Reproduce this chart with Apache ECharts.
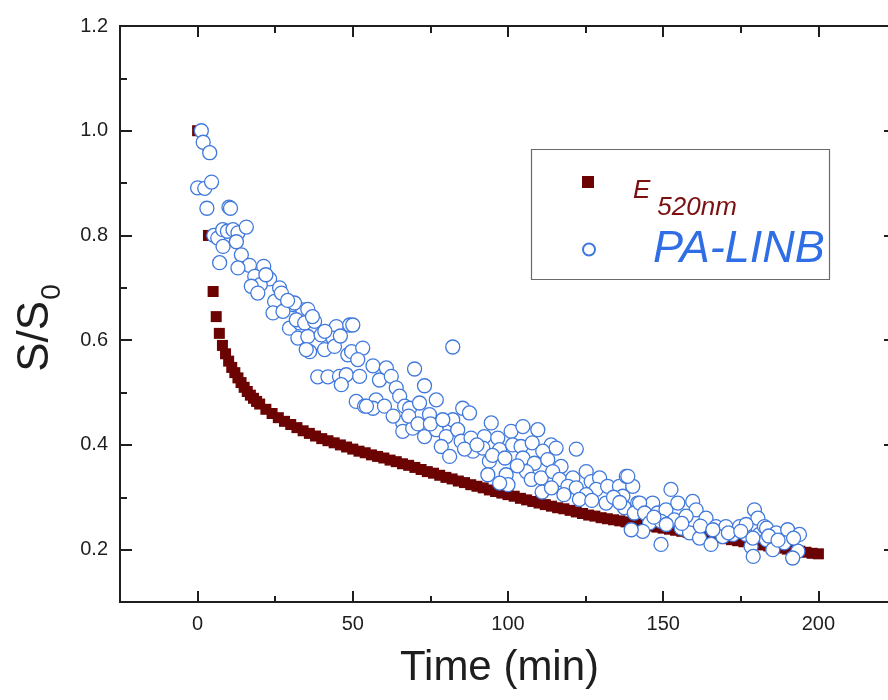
<!DOCTYPE html>
<html>
<head>
<meta charset="utf-8">
<title>S/S0 decay</title>
<script src="https://cdn.jsdelivr.net/npm/echarts@6/dist/echarts.min.js"></script>
<style>
  html, body { margin: 0; padding: 0; background: #ffffff; overflow: hidden; }
  /* the plot frame runs slightly past the right edge of the window */
  #chart { width: 910px; height: 700px; }
</style>
</head>
<body>
<div id="chart"></div>
<script>
// E(520 nm) decay: time (min) and normalised signal
const eTime = [0, 3.5, 5, 6, 7, 8, 9, 10, 11, 12, 13, 14, 15, 16, 17, 18, 19,
  20, 22, 24, 26, 28, 30, 32, 34, 36, 38, 40, 42, 44, 46, 48, 50, 52, 54, 56, 58,
  60, 62, 64, 66, 68, 70, 72, 74, 76, 78, 80, 82, 84, 86, 88, 90, 92, 94, 96, 98,
  100, 102, 104, 106, 108, 110, 112, 114, 116, 118, 120, 122, 124, 126, 128, 130,
  132, 134, 136, 138, 140, 142, 144, 146, 148, 150, 152, 154, 156, 158, 160, 162,
  164, 166, 168, 170, 172, 174, 176, 178, 180, 182, 184, 186, 188, 190, 192, 194,
  196, 198, 200];
const eValue = [1.000, 0.800, 0.693, 0.645, 0.613, 0.590, 0.574, 0.560, 0.548, 0.538,
  0.528, 0.519, 0.510, 0.502, 0.495, 0.489, 0.483,
  0.478, 0.468, 0.460, 0.452, 0.445, 0.439, 0.433, 0.427, 0.422, 0.417, 0.412, 0.408,
  0.404, 0.400, 0.396, 0.392, 0.388, 0.385, 0.381, 0.378,
  0.375, 0.371, 0.368, 0.364, 0.361, 0.357, 0.353, 0.349, 0.346, 0.342, 0.338, 0.335,
  0.331, 0.328, 0.324, 0.321, 0.318, 0.314, 0.311, 0.308,
  0.305, 0.302, 0.298, 0.295, 0.292, 0.289, 0.286, 0.283, 0.280, 0.278, 0.275, 0.272,
  0.269, 0.266, 0.264, 0.261,
  0.259, 0.257, 0.255, 0.253, 0.251, 0.249, 0.247, 0.245, 0.243, 0.241, 0.239, 0.237,
  0.235, 0.233, 0.231, 0.229,
  0.227, 0.225, 0.223, 0.221, 0.219, 0.217, 0.215, 0.213, 0.211, 0.209, 0.207, 0.205,
  0.203, 0.201, 0.199, 0.197,
  0.195, 0.193, 0.192];

// PA-LINB signal: time (min) and normalised signal
const paTime = [1.2, 1.8, 3.9, 0, 2.3, 4.5, 3.0, 10.1, 10.6, 5.2, 6.5, 8.1, 9.6, 11.4,
  13.0, 15.7, 8.2, 12.5, 7.1, 14.1, 16.7, 21.3, 13.0, 18.4, 23.2, 20.2, 17.3, 26.4,
  19.4, 22.0, 24.8, 30.7, 24.3, 27.5, 33.9, 29.6, 32.9, 31.2, 35.5, 31.8, 34.5, 37.7,
  44.7, 49.0, 50.0, 32.3, 35.5, 39.8, 43.6, 36.1, 35.0, 40.9, 44.1, 48.4, 49.6, 53.2,
  51.6, 38.7, 42.0, 45.7, 47.9, 46.3, 52.2, 56.5, 60.8, 58.6, 62.4, 64.0, 65.1, 51.1,
  53.8, 57.5, 56.5, 60.2, 66.7, 54.4, 66.1, 66.1, 69.9, 73.1, 76.9, 68.3, 71.5, 74.7,
  69.3, 73.1, 76.9, 80.1, 78.5, 81.2, 82.2, 85.4, 87.6, 82.2, 83.8, 84.9, 88.1, 88.7,
  92.4, 91.9, 94.6, 96.7, 97.3, 94.0, 93.5, 101.0, 104.8, 101.5, 104.2, 99.4, 100.0,
  97.3, 109.6, 107.8, 113.9, 115.5, 122.0, 104.8, 108.5, 111.2, 112.8, 117.1, 105.9,
  107.5, 110.7, 114.4, 116.6, 120.9, 119.3, 122.0, 125.2, 126.8, 129.5, 128.4, 132.1,
  135.9, 138.1, 140.2, 131.6, 137.0, 137.5, 141.8, 144.5, 140.7, 125.2, 152.5, 146.6,
  142.4, 144.0, 148.2, 150.9, 154.7, 159.5, 160.6, 145.6, 149.3, 153.6, 157.4, 163.8,
  155.8, 143.4, 149.3, 158.5, 161.7, 165.4, 167.0, 170.2, 169.2, 172.5, 174.6, 176.7,
  179.4, 180.5, 178.3, 179.0, 181.0, 183.2, 182.6, 176.7, 183.3, 178.9, 186.4, 190.1,
  193.9, 185.3, 189.0, 193.4, 191.7, 139.7, 138.6,
  27.0, 29.0, 37.0, 41.0, 46.0, 63.0, 68.0, 71.0, 75.0, 79.0, 86.0, 90.0, 95.0, 99.0,
  103.0, 111.0, 114.0, 118.0, 123.0, 127.0, 134.0, 136.0, 147.0, 151.0, 156.0, 162.0,
  166.0, 171.0, 175.0, 184.0, 187.0, 192.0];
const paValue = [1.000, 0.978, 0.958, 0.891, 0.890, 0.902, 0.852, 0.854, 0.852, 0.800,
  0.795, 0.811, 0.808, 0.811, 0.805, 0.816, 0.779, 0.788, 0.748, 0.763, 0.743, 0.741,
  0.738, 0.722, 0.717, 0.706, 0.703, 0.700, 0.690, 0.725, 0.674, 0.668, 0.652, 0.655,
  0.658, 0.623, 0.633, 0.671, 0.659, 0.639, 0.633, 0.636, 0.626, 0.629, 0.629, 0.604,
  0.607, 0.610, 0.604, 0.578, 0.582, 0.582, 0.588, 0.572, 0.578, 0.585, 0.563, 0.530,
  0.530, 0.531, 0.534, 0.515, 0.531, 0.551, 0.547, 0.524, 0.531, 0.509, 0.493, 0.483,
  0.474, 0.486, 0.470, 0.474, 0.474, 0.474, 0.442, 0.426, 0.545, 0.513, 0.486, 0.470,
  0.480, 0.458, 0.432, 0.416, 0.429, 0.416, 0.397, 0.378, 0.587, 0.470, 0.461, 0.448,
  0.429, 0.407, 0.413, 0.388, 0.416, 0.394, 0.442, 0.413, 0.391, 0.369, 0.343, 0.426,
  0.435, 0.400, 0.397, 0.343, 0.324, 0.327, 0.429, 0.404, 0.400, 0.394, 0.392, 0.375,
  0.365, 0.388, 0.372, 0.359, 0.349, 0.334, 0.337, 0.349, 0.334, 0.337, 0.321, 0.318,
  0.349, 0.330, 0.337, 0.315, 0.321, 0.321, 0.340, 0.321, 0.289, 0.302, 0.280, 0.289,
  0.273, 0.270, 0.305, 0.315, 0.289, 0.289, 0.270, 0.270, 0.276, 0.289, 0.292, 0.276,
  0.251, 0.254, 0.257, 0.264, 0.260, 0.241, 0.235, 0.210, 0.232, 0.222, 0.210, 0.244,
  0.244, 0.225, 0.229, 0.244, 0.229, 0.276, 0.260, 0.206, 0.187, 0.229, 0.219, 0.244,
  0.248, 0.241, 0.222, 0.232, 0.238, 0.229, 0.200, 0.213, 0.197, 0.184, 0.238, 0.340,
  0.690, 0.676, 0.645, 0.617, 0.608, 0.455, 0.455, 0.440, 0.440, 0.448, 0.392, 0.400,
  0.380, 0.375, 0.360, 0.310, 0.318, 0.305, 0.296, 0.294, 0.300, 0.290, 0.262, 0.248,
  0.250, 0.245, 0.238, 0.232, 0.235, 0.226, 0.218, 0.222];

// Axis ticks
const xMajorTicks = [0, 50, 100, 150, 200];
const xMinorTicks = [25, 75, 125, 175];
const yMajorTicks = [0.2, 0.4, 0.6, 0.8, 1.0, 1.2];
const yMinorTicks = [0.3, 0.5, 0.7, 0.9, 1.1];

const seriesNames = ['E520nm', 'PA-LINB'];

const FONT = '"Liberation Sans", Arial, Helvetica, sans-serif';
const AXIS_COLOR = '#1e1e1e';
const RED = '#6c0303';
const BLUE = '#4079dc';

const X_MIN = -25, X_MAX = 225, Y_MIN = 0.1, Y_MAX = 1.2;

function pairs(xs, ys) {
  return xs.map((x, i) => [x, ys[i]]);
}

function xAxisOf(position, ticks, len, withLabels) {
  return {
    type: 'value', min: X_MIN, max: X_MAX, position: position,
    axisLine: { show: true, onZero: false, lineStyle: { color: AXIS_COLOR, width: 2 } },
    axisTick: { show: true, inside: true, length: len, customValues: ticks,
                lineStyle: { color: AXIS_COLOR, width: 2 } },
    axisLabel: { show: withLabels, customValues: ticks, fontSize: 20, color: AXIS_COLOR,
                 fontFamily: FONT, margin: 12 },
    splitLine: { show: false }
  };
}

function yAxisOf(position, ticks, len, withLabels) {
  return {
    type: 'value', min: Y_MIN, max: Y_MAX, position: position,
    axisLine: { show: true, onZero: false, lineStyle: { color: AXIS_COLOR, width: 2 } },
    axisTick: { show: true, inside: true, length: len, customValues: ticks,
                lineStyle: { color: AXIS_COLOR, width: 2 } },
    axisLabel: { show: withLabels, customValues: ticks, fontSize: 20, color: AXIS_COLOR,
                 fontFamily: FONT, margin: 12,
                 formatter: v => Number(v).toFixed(1) },
    splitLine: { show: false }
  };
}

const xBottom = xAxisOf('bottom', xMajorTicks, 11, true);
xBottom.name = 'Time (min)';
xBottom.nameLocation = 'middle';
xBottom.nameGap = 45;
xBottom.nameTextStyle = { fontSize: 42, color: AXIS_COLOR, fontFamily: FONT, padding: [0, 17, 0, 0] };

const yLeft = yAxisOf('left', yMajorTicks, 12, true);
yLeft.name = '{m|S/S}{s|0}';
yLeft.nameLocation = 'middle';
yLeft.nameGap = 62;
yLeft.nameTextStyle = {
  color: AXIS_COLOR, fontFamily: FONT,
  padding: [0, 28, 0, 0],
  rich: {
    m: { fontSize: 44, lineHeight: 44, fontFamily: FONT, color: AXIS_COLOR, verticalAlign: 'top' },
    s: { fontSize: 28, lineHeight: 28, fontFamily: FONT, color: AXIS_COLOR, verticalAlign: 'top',
         padding: [24, 0, 0, 1] }
  }
};

// legend entries are laid out as two single-item legends inside one frame
function legendOf(name, top, icon) {
  return {
    orient: 'vertical',
    left: 582, top: top,
    padding: 0,
    itemWidth: 12, itemHeight: 12,
    selectedMode: false,
    data: [{ name: name, icon: icon }],
    formatter: function (n) {
      return n === seriesNames[0] ? '{e|E}{sub|520nm}' : '{p|PA-LINB}';
    },
    textStyle: {
      fontFamily: FONT,
      rich: {
        e: { fontSize: 26, lineHeight: 26, fontStyle: 'italic', fontFamily: FONT, color: '#7a1010',
             verticalAlign: 'top', padding: [9, 0, 0, 34] },
        sub: { fontSize: 26, lineHeight: 24, fontStyle: 'italic', fontFamily: FONT, color: '#7a1010',
               verticalAlign: 'top', padding: [26, 0, 0, 7] },
        p: { fontSize: 45, lineHeight: 48, fontStyle: 'italic', fontFamily: FONT, color: '#2f6ee4',
             padding: [0, 0, 0, 53] }
      }
    }
  };
}

const chart = echarts.init(document.getElementById('chart'), null, { renderer: 'canvas' });

chart.setOption({
  backgroundColor: '#ffffff',
  animation: false,
  grid: { left: 120, top: 26, width: 776, height: 576, containLabel: false },
  xAxis: [
    xBottom,
    xAxisOf('bottom', xMinorTicks, 6, false),
    xAxisOf('top', xMajorTicks, 11, false),
    xAxisOf('top', xMinorTicks, 7, false)
  ],
  yAxis: [
    yLeft,
    yAxisOf('left', yMinorTicks, 7, false),
    yAxisOf('right', yMajorTicks, 12, false),
    yAxisOf('right', yMinorTicks, 7, false)
  ],
  legend: [
    legendOf(seriesNames[0], 169, 'rect'),
    legendOf(seriesNames[1], 227, 'circle')
  ],
  graphic: [{
    type: 'rect',
    shape: { x: 531.5, y: 149.5, width: 298, height: 130 },
    style: { fill: 'none', stroke: '#6a6a6a', lineWidth: 1.2 },
    z: 1
  }],
  series: [
    {
      name: seriesNames[0],
      type: 'scatter',
      xAxisIndex: 0, yAxisIndex: 0,
      symbol: 'rect',
      symbolSize: 11,
      itemStyle: { color: RED, opacity: 1 },
      data: pairs(eTime, eValue),
      z: 2
    },
    {
      name: seriesNames[1],
      type: 'scatter',
      xAxisIndex: 0, yAxisIndex: 0,
      symbol: 'circle',
      symbolSize: 14,
      itemStyle: { color: '#ffffff', borderColor: BLUE, borderWidth: 1.3, opacity: 1 },
      data: pairs(paTime, paValue),
      z: 3
    }
  ]
});
</script>
</body>
</html>
